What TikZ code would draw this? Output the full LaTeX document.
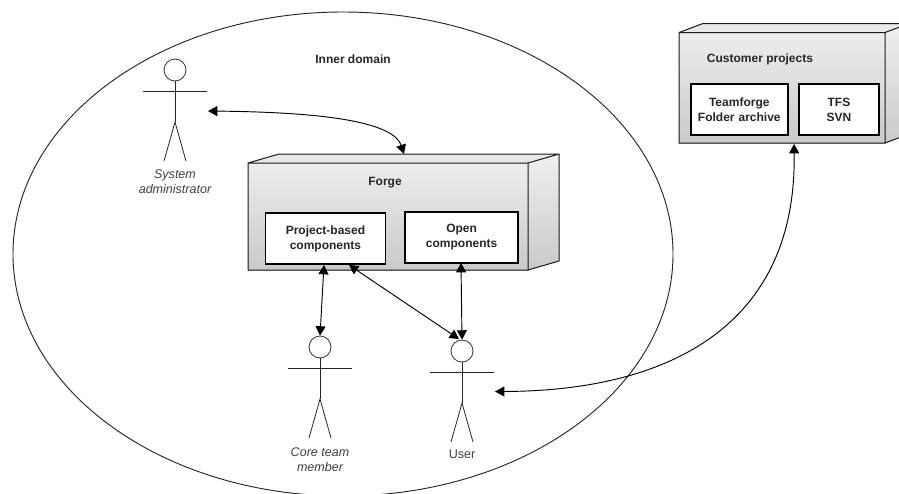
\documentclass[tikz,border=0pt]{standalone}
\usepackage{fontspec}
\setmainfont{Liberation Sans}
\usetikzlibrary{arrows.meta}
\tikzset{
  x=0.75pt,y=-0.75pt,
  lbl/.style={font=\fontsize{9pt}{11.2pt}\selectfont\bfseries,align=center,text=black!85,inner sep=0pt},
  actorlbl/.style={font=\fontsize{9.4pt}{11.2pt}\selectfont,align=center,text=black!75,inner sep=0pt},
  inner box/.style={draw=black,line width=1.4pt,fill=white,align=center,inner sep=0pt,anchor=north west,font=\fontsize{9pt}{11.2pt}\selectfont\bfseries,text=black!85},
  thin line/.style={draw=black!85,line width=0.6pt},
  conn/.style={draw=black,line width=0.7pt,{Triangle[length=7pt,width=7.5pt]}-{Triangle[length=7pt,width=7.5pt]}},
  head/.style={circle,draw=black!80,line width=0.6pt,fill=white,minimum size=16.5pt,inner sep=0pt},
}
\newcommand{\actorfig}[3]{%
  \node[head] (#1) at (#2,#3) {};
  \coordinate (#1hip) at (#2,#3+52);
  \coordinate (#1la) at (#2-32,#3+21);
  \coordinate (#1ra) at (#2+32,#3+21);
  \coordinate (#1lf) at (#2-11,#3+91);
  \coordinate (#1rf) at (#2+11,#3+91);
  \draw[thin line] (#1.south) -- (#1hip);
  \draw[thin line] (#1la) -- (#1ra);
  \draw[thin line] (#1lf) -- (#1hip) -- (#1rf);
}
\newcommand{\cube}[6]{% x0 y0 x1 y1 dx dy
  \shade[top color=black!7,bottom color=black!21] (#1,#2) rectangle (#3,#4);
  \fill[black!9] (#1,#2) -- (#1+#5,#2-#6) -- (#3+#5,#2-#6) -- (#3,#2) -- cycle;
  \shade[top color=black!6,bottom color=black!21] (#3,#2) -- (#3+#5,#2-#6) -- (#3+#5,#4-#6) -- (#3,#4) -- cycle;
  \draw[line width=0.75pt,draw=black!90,line join=miter] (#1,#2) rectangle (#3,#4)
    (#1,#2) -- (#1+#5,#2-#6) -- (#3+#5,#2-#6) -- (#3+#5,#4-#6) -- (#3,#4)
    (#3,#2) -- (#3+#5,#2-#6);
}
\begin{document}
\begin{tikzpicture}
\useasboundingbox (0,0) rectangle (899,493);
\begin{scope}
\clip (0,0) rectangle (899,493);
\draw[draw=black!85,line width=0.7pt] (343,254) ellipse [x radius=330,y radius=242];
\cube{679}{32.5}{885}{143}{24}{9}
\end{scope}
\node[lbl] (innerlbl) at (353,59.5) {Inner domain};
\cube{248}{163}{528}{270}{31}{9}
\coordinate (forgetop) at (404,154);
\coordinate (custbottom) at (794,144);
\node[lbl] (forgelbl) at (385,182.5) {Forge};
\node[inner box,minimum width=90pt,minimum height=38.5pt,text width=90pt] (project) at (264.5,212) {Project-based\\components};
\node[inner box,minimum width=85pt,minimum height=38pt,text width=85pt] (open) at (404,211) {Open\\components};
\node[lbl] (custlbl) at (760,59.5) {Customer projects};
\node[inner box,minimum width=72.5pt,minimum height=38.5pt,text width=72.5pt] (folder) at (690,83) {Teamforge\\Folder archive};
\node[inner box,minimum width=60pt,minimum height=38.5pt,text width=60pt] (tfs) at (798,83) {TFS\\SVN};
\actorfig{admin}{175}{70}
\actorfig{core}{320}{347}
\actorfig{user}{462}{351}
\node[actorlbl,font=\fontsize{9.4pt}{11.2pt}\selectfont\itshape] (adminlbl) at (175,182) {System\\administrator};
\node[actorlbl,font=\fontsize{9.4pt}{11.2pt}\selectfont\itshape] (corelbl) at (320,459.5) {Core team\\member};
\node[actorlbl] (userlbl) at (462,454) {User};
\coordinate (adminside) at (208,111);
\coordinate (userside) at (495,391.5);
\coordinate (coretip) at (324,265);
\coordinate (projtip) at (349,265);
\coordinate (opentip) at (461,263);
\coordinate (userdiag) at (459,339);
\draw[conn] (adminside) .. controls (300,112) and (392,118) .. (forgetop);
\draw[conn] (userside) .. controls (670,391) and (797,325) .. (custbottom);
\draw[conn] (core.north) -- (coretip);
\draw[conn] (user.north) -- (opentip);
\draw[conn] (userdiag) -- (projtip);
\end{tikzpicture}
\end{document}
